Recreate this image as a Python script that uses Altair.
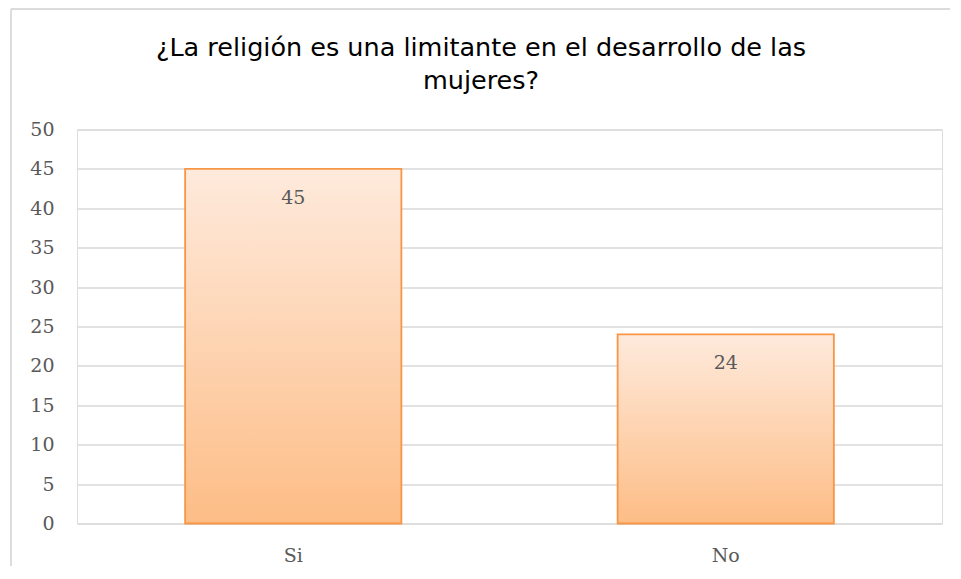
import altair as alt
import pandas as pd

categories = ["Si", "No"]
values = [45, 24]
y_ticks = [0, 5, 10, 15, 20, 25, 30, 35, 40, 45, 50]
title_lines = ["¿La religión es una limitante en el desarrollo de las", "mujeres?"]

df = pd.DataFrame({"respuesta": categories, "valor": values})

W, H = 865, 394
PL, PT = 69, 121.5

gradient = alt.Gradient(
    gradient="linear",
    stops=[
        alt.GradientStop(color="#FEEADC", offset=0),
        alt.GradientStop(color="#FDBD86", offset=1),
    ],
    x1=0, x2=0, y1=0, y2=1,
)

x_enc = alt.X(
    "respuesta:N",
    sort=categories,
    scale=alt.Scale(paddingInner=0.5, paddingOuter=0.25),
    axis=alt.Axis(
        title=None, labelAngle=0, ticks=False, tickSize=0, domain=False, grid=False,
        labelFont="DejaVu Serif", labelFontSize=19, labelColor="#595959",
        labelBaseline="alphabetic", labelPadding=38,
    ),
)
y_enc = alt.Y(
    "valor:Q",
    scale=alt.Scale(domain=[0, 50], nice=False),
    axis=alt.Axis(
        title=None, values=y_ticks, ticks=False, tickSize=0, domain=False,
        grid=True, gridColor="#D9D9D9", gridWidth=1.4, labelOverlap=False,
        labelFont="DejaVu Serif", labelFontSize=19, labelColor="#595959",
        labelPadding=23,
    ),
)

bars = alt.Chart(df).mark_bar(
    fill=gradient, stroke="#F79646", strokeWidth=1.8
).encode(x=x_enc, y=y_enc)

labels = alt.Chart(df).mark_text(
    font="DejaVu Serif", fontSize=19, color="#595959",
    baseline="alphabetic", align="center", dy=35,
).encode(x=x_enc, y=y_enc, text="valor:Q")

frame_top = alt.Chart(df).mark_rule(color="#D9D9D9", strokeWidth=1.3).encode(
    x=alt.value(-66), x2=alt.value(W + 20), y=alt.value(-120.5)
)
frame_left = alt.Chart(df).mark_rule(color="#D9D9D9", strokeWidth=1.3).encode(
    x=alt.value(-66), y=alt.value(-120.5), y2=alt.value(H + 60)
)

title = alt.Chart(df.head(1)).mark_text(
    text=title_lines, font="DejaVu Sans", fontSize=25.5, color="#000000",
    lineHeight=33, align="center", baseline="top",
).encode(x=alt.value(404), y=alt.value(-94))

chart = alt.layer(frame_top, frame_left, bars, labels, title).properties(
    width=W,
    height=H,
    autosize=alt.AutoSizeParams(type="none"),
    padding={"left": PL, "top": PT, "right": 8, "bottom": 42},
).configure_view(strokeWidth=0).configure(background="white")

chart.save("out.html", embed_options={"renderer": "svg", "actions": False})
